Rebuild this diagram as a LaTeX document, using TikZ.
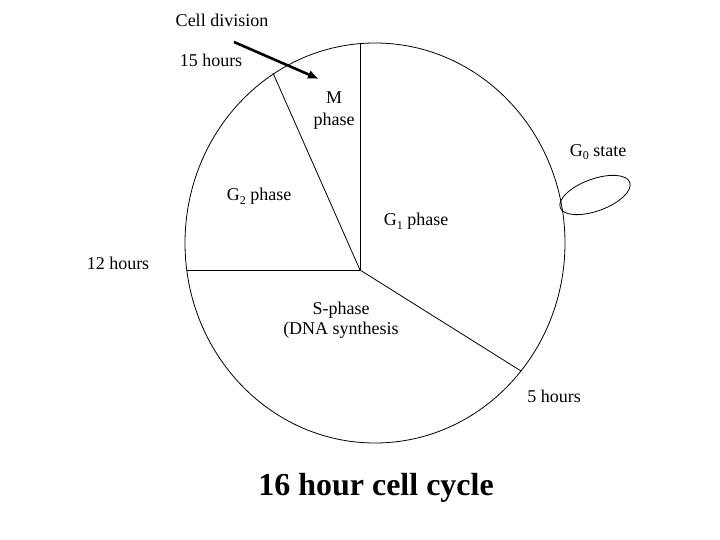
\documentclass[tikz,border=0pt]{standalone}
\usepackage{fontspec}
\setmainfont{Liberation Serif}
\usetikzlibrary{arrows.meta}
\newcommand{\lowsub}[1]{\raisebox{-0.45ex}{\fontsize{12}{12}\selectfont #1}}
\begin{document}
\begin{tikzpicture}[x=1pt,y=-1pt,
  lbl/.style={inner sep=0pt, font=\fontsize{18}{20}\selectfont, align=center},
  thin line/.style={line width=0.8pt},
  pointer/.style={line width=2.6pt, -{Latex[length=11pt,width=9pt]}}]
\useasboundingbox[fill=white] (0,0) rectangle (720,540);
% pie
\coordinate (c) at (360,270);
\coordinate (top) at (360,43.6);
\coordinate (gm) at (273,73);
\coordinate (lft) at (187,270);
\coordinate (low) at (521,371);
\draw[thin line] (375,243) ellipse [x radius=190, y radius=200];
\draw[thin line] (c) -- (top);
\draw[thin line] (c) -- (gm);
\draw[thin line] (c) -- (lft);
\draw[thin line] (c) -- (low);
% G0 loop
\draw[thin line, rotate around={20:(595,195)}] (595,195) ellipse [x radius=37, y radius=16];
% arrow
\coordinate (a1) at (234,42);
\coordinate (a2) at (319,79);
\draw[pointer] (a1) -- (a2);
% labels
\node[lbl] (celldiv) at (222,20) {Cell division};
\node[lbl] (h15) at (211,60) {15 hours};
\node[lbl] (mph) at (334,111) {M\\[2pt]phase};
\node[lbl] (g0) at (598,152) {G\lowsub{0} state};
\node[lbl] (g2) at (259,196) {G\lowsub{2} phase};
\node[lbl] (g1) at (416,221) {G\lowsub{1} phase};
\node[lbl] (h12) at (118,263) {12 hours};
\node[lbl] (sph) at (341,320) {S-phase\\(DNA synthesis};
\node[lbl] (h5) at (554,396) {5 hours};
\node[inner sep=0pt, font=\fontsize{32}{36}\selectfont\bfseries] (title) at (376,488) {16 hour cell cycle};
\end{tikzpicture}
\end{document}
